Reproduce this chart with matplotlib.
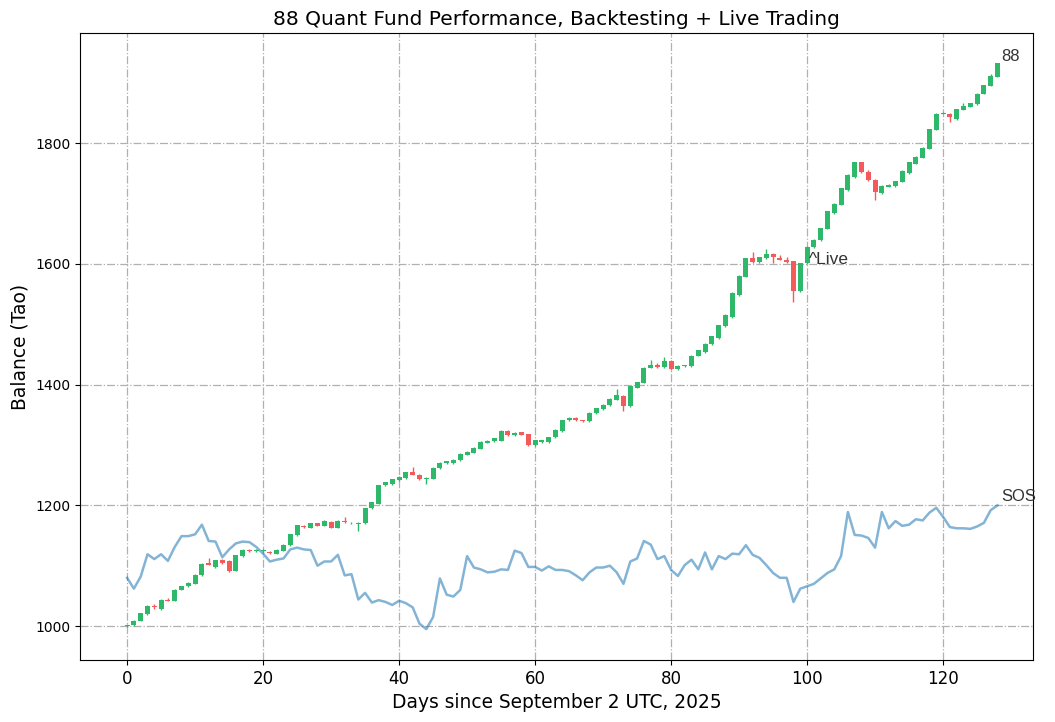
import numpy as np
import matplotlib
matplotlib.use('Agg')
import matplotlib.pyplot as plt

# daily fund balance (Tao)
opens = [1000, 1001, 1009, 1020, 1034, 1028, 1044, 1042, 1060, 1066,
         1070, 1084, 1104, 1098, 1109, 1108, 1092, 1116, 1126, 1124,
         1124, 1123, 1120, 1125, 1134, 1151, 1165, 1163, 1170, 1166,
         1173, 1163, 1174, 1170, 1169, 1170, 1195, 1203, 1233, 1235,
         1242, 1245, 1255, 1251, 1244, 1244, 1262, 1270, 1270, 1275,
         1284, 1287, 1294, 1304, 1306, 1307, 1323, 1316, 1321, 1318,
         1300, 1305, 1305, 1313, 1323, 1341, 1344, 1341, 1339, 1353,
         1359, 1366, 1375, 1381, 1364, 1395, 1403, 1428, 1433, 1429,
         1439, 1426, 1430, 1430, 1448, 1454, 1467, 1477, 1497, 1512,
         1548, 1579, 1609, 1603, 1609, 1617, 1609, 1606, 1604, 1555,
         1601, 1628, 1639, 1658, 1684, 1698, 1722, 1744, 1768, 1752,
         1739, 1717, 1728, 1729, 1736, 1750, 1766, 1776, 1791, 1822,
         1849, 1849, 1840, 1855, 1860, 1864, 1882, 1895, 1910]
closes = [1002, 1009, 1021, 1033, 1031, 1043, 1042, 1060, 1066, 1072,
          1085, 1103, 1102, 1109, 1104, 1091, 1117, 1126, 1124, 1126,
          1126, 1121, 1126, 1135, 1152, 1167, 1164, 1170, 1166, 1174,
          1163, 1174, 1172, 1171, 1171, 1195, 1205, 1233, 1238, 1243,
          1247, 1255, 1251, 1243, 1246, 1262, 1270, 1273, 1275, 1285,
          1289, 1295, 1305, 1307, 1311, 1323, 1316, 1320, 1317, 1300,
          1308, 1308, 1313, 1325, 1341, 1345, 1341, 1339, 1353, 1361,
          1367, 1376, 1382, 1364, 1397, 1404, 1428, 1433, 1429, 1439,
          1426, 1431, 1432, 1448, 1457, 1468, 1480, 1498, 1516, 1552,
          1580, 1609, 1603, 1611, 1617, 1611, 1607, 1603, 1555, 1601,
          1628, 1640, 1659, 1687, 1699, 1725, 1747, 1768, 1752, 1739,
          1719, 1729, 1731, 1737, 1754, 1768, 1777, 1792, 1823, 1849,
          1850, 1843, 1856, 1862, 1866, 1882, 1896, 1911, 1932]
highs = [1003, 1010, 1022, 1035, 1037, 1045, 1047, 1061, 1067, 1073,
         1086, 1104, 1112, 1110, 1111, 1109, 1118, 1127, 1128, 1127,
         1127, 1124, 1127, 1136, 1153, 1168, 1167, 1171, 1171, 1175,
         1174, 1175, 1180, 1172, 1172, 1196, 1206, 1234, 1239, 1244,
         1248, 1256, 1263, 1252, 1247, 1263, 1271, 1274, 1276, 1286,
         1290, 1296, 1306, 1308, 1312, 1324, 1324, 1321, 1322, 1319,
         1309, 1309, 1314, 1326, 1342, 1346, 1346, 1342, 1354, 1362,
         1368, 1377, 1392, 1382, 1398, 1405, 1429, 1440, 1435, 1446,
         1440, 1432, 1433, 1449, 1458, 1469, 1481, 1499, 1517, 1553,
         1581, 1610, 1620, 1612, 1625, 1618, 1615, 1612, 1605, 1602,
         1629, 1641, 1660, 1688, 1700, 1726, 1748, 1769, 1769, 1755,
         1740, 1730, 1732, 1738, 1755, 1769, 1778, 1793, 1824, 1850,
         1851, 1850, 1857, 1866, 1867, 1883, 1897, 1915, 1933]
lows = [999, 1000, 1008, 1019, 1029, 1027, 1041, 1041, 1059, 1065,
        1069, 1083, 1101, 1097, 1103, 1090, 1091, 1115, 1123, 1123,
        1123, 1120, 1119, 1124, 1133, 1150, 1163, 1162, 1165, 1165,
        1162, 1162, 1171, 1169, 1158, 1169, 1194, 1202, 1232, 1234,
        1241, 1244, 1250, 1242, 1236, 1243, 1261, 1269, 1269, 1274,
        1283, 1286, 1293, 1303, 1305, 1306, 1315, 1315, 1316, 1299,
        1299, 1304, 1304, 1312, 1322, 1340, 1340, 1338, 1338, 1352,
        1358, 1365, 1374, 1357, 1363, 1394, 1402, 1427, 1428, 1428,
        1425, 1425, 1429, 1429, 1447, 1453, 1466, 1476, 1496, 1511,
        1547, 1578, 1602, 1602, 1608, 1602, 1606, 1602, 1537, 1554,
        1600, 1627, 1638, 1657, 1683, 1697, 1721, 1743, 1751, 1738,
        1706, 1716, 1727, 1728, 1735, 1749, 1765, 1775, 1790, 1821,
        1848, 1835, 1839, 1854, 1859, 1863, 1881, 1894, 1909]

# benchmark ("SOS") balance
sos = [1080, 1062, 1082, 1119, 1111, 1119, 1108, 1131, 1149, 1149,
       1152, 1168, 1141, 1140, 1114, 1127, 1137, 1140, 1139, 1131,
       1120, 1107, 1110, 1112, 1127, 1130, 1127, 1126, 1100, 1107,
       1107, 1118, 1084, 1086, 1044, 1055, 1039, 1043, 1040, 1035,
       1042, 1038, 1031, 1004, 995, 1015, 1079, 1052, 1049, 1060,
       1116, 1097, 1094, 1089, 1090, 1094, 1093, 1125, 1121, 1098,
       1098, 1092, 1099, 1093, 1093, 1091, 1084, 1076, 1089, 1097,
       1097, 1100, 1089, 1070, 1107, 1112, 1141, 1135, 1111, 1116,
       1093, 1083, 1101, 1110, 1094, 1122, 1094, 1116, 1111, 1120,
       1119, 1134, 1118, 1113, 1101, 1088, 1080, 1080, 1040, 1062,
       1066, 1070, 1079, 1088, 1094, 1116, 1189, 1151, 1150, 1146,
       1130, 1189, 1162, 1174, 1166, 1168, 1177, 1175, 1188, 1196,
       1181, 1164, 1162, 1162, 1161, 1165, 1171, 1192, 1200]

live_start = 100
UP = '#2db86a'
DOWN = '#f55a5a'
NOTE_FONT = ['Liberation Sans', 'DejaVu Sans']


def main():
    o = np.array(opens, dtype=float)
    c = np.array(closes, dtype=float)
    h = np.array(highs, dtype=float)
    l = np.array(lows, dtype=float)
    days = np.arange(len(c))
    colors = np.where(c >= o, UP, DOWN)

    fig = plt.figure(figsize=(10.55, 7.22), dpi=100)
    ax = fig.add_axes([0.076, 0.086, 0.903, 0.868])
    ax.set_axisbelow(True)
    ax.grid(True, linestyle='-.', color='#b0b0b0', linewidth=0.9)

    ax.vlines(days, l, h, colors=colors, linewidth=1, zorder=2)
    body = np.maximum(np.abs(c - o), 1.5)
    ax.bar(days, body, bottom=np.minimum(o, c), width=0.72, color=colors,
           linewidth=0, zorder=3)

    ax.plot(np.arange(len(sos)), sos, color='#1f77b4', alpha=0.55,
            linewidth=1.8, zorder=2)

    ax.text(days[-1] + 0.6, c[-1] + 4, '88', fontsize=12, color='#333333',
            family=NOTE_FONT)
    ax.text(len(sos) - 0.4, sos[-1] + 7, 'SOS', fontsize=12, color='#333333',
            family=NOTE_FONT)
    ax.text(live_start + 0.2, 1600, '^Live', fontsize=12.5, color='#333333',
            family=NOTE_FONT)

    ax.set_xlim(-6.9, 133.2)
    ax.set_ylim(944, 1982)
    ax.set_xticks(range(0, 121, 20))
    ax.set_yticks(range(1000, 1801, 200))
    ax.tick_params(axis='x', labelsize=12)
    ax.tick_params(axis='y', labelsize=10)

    ax.set_title('88 Quant Fund Performance, Backtesting + Live Trading', fontsize=14.5)
    ax.set_xlabel('Days since September 2 UTC, 2025', fontsize=13.4)
    ax.set_ylabel('Balance (Tao)', fontsize=13.4)

    fig.savefig('out.png', dpi=100)


if __name__ == '__main__':
    main()
